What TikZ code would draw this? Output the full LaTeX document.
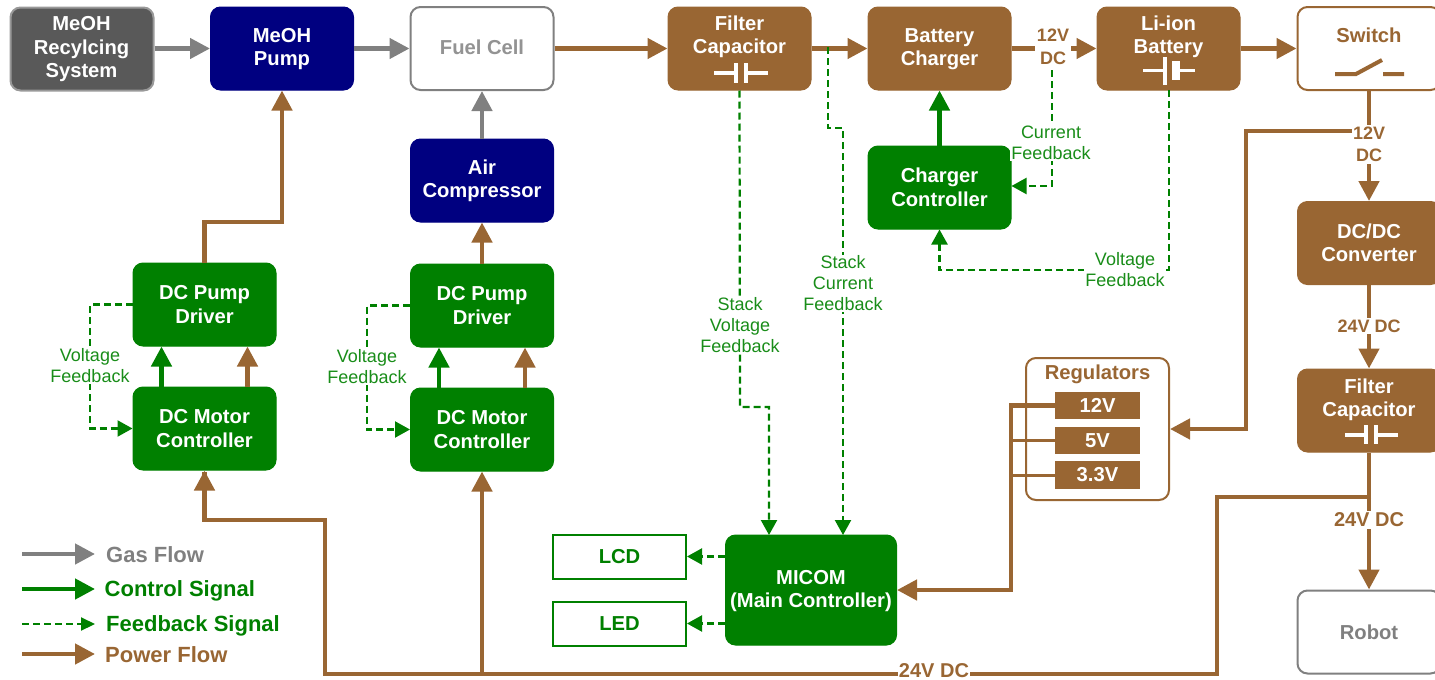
\documentclass[tikz,border=0pt]{standalone}
\usepackage{fontspec}
\setmainfont{Liberation Sans}
\usetikzlibrary{arrows.meta}
\definecolor{pw}{HTML}{996633}
\definecolor{gn}{HTML}{008000}
\definecolor{gy}{HTML}{808080}
\definecolor{nv}{HTML}{000080}
\definecolor{dk}{HTML}{595959}
\tikzset{
  bx/.style={rounded corners=10pt,minimum width=143pt,minimum height=83pt,inner sep=0pt,align=center,
    font=\fontsize{20.2}{23.5}\selectfont\bfseries,line width=1pt},
  brownbox/.style={bx,fill=pw,draw=pw,text=white},
  greenbox/.style={bx,fill=gn,draw=gn,text=white},
  navybox/.style={bx,fill=nv,draw=nv,text=white},
  whitebox/.style={bx,fill=white,draw=gy,text=gy,line width=2pt},
  switchbox/.style={bx,fill=white,draw=pw,text=pw,line width=2pt},
  boxtext/.style={inner sep=0pt,align=center,font=\fontsize{20.2}{23.5}\selectfont\bfseries},
  regbox/.style={fill=pw,draw=none,text=white,minimum width=85pt,minimum height=27.5pt,inner sep=0pt,
    font=\fontsize{20.2}{24}\selectfont\bfseries},
  dispbox/.style={fill=white,draw=gn,line width=2pt,text=gn,minimum width=133pt,minimum height=44pt,inner sep=0pt,
    font=\fontsize{20.2}{24}\selectfont\bfseries},
  power/.style={draw=pw,line width=4.5pt,-{Triangle[length=20pt,width=20pt]}},
  powerline/.style={draw=pw,line width=4.5pt},
  thinpower/.style={draw=pw,line width=3pt},
  control/.style={draw=gn,line width=4.5pt,-{Triangle[length=20pt,width=20pt]}},
  gas/.style={draw=gy,line width=4.5pt,-{Triangle[length=20pt,width=20pt]}},
  feed/.style={draw=gn,line width=2.2pt,dash pattern=on 7pt off 4pt,-{Triangle[length=15pt,width=16pt]}},
  fblabel/.style={fill=white,text=gn!90!white,inner sep=1pt,align=center,font=\fontsize{18}{21}\selectfont},
  pwlabel/.style={fill=white,text=pw,inner sep=1.5pt,align=center,font=\fontsize{18}{22.5}\selectfont\bfseries},
  pwlabelbig/.style={pwlabel,font=\fontsize{20}{24}\selectfont\bfseries},
  legendtext/.style={anchor=west,inner sep=0pt,font=\fontsize{22}{24}\selectfont\bfseries},
  sym/.style={draw=white,line width=3.5pt},
}
\begin{document}
\begin{tikzpicture}[x=1pt,y=-1pt]
\useasboundingbox (0,0) rectangle (1435,680);
\clip (0,0) rectangle (1435,680);
% boxes
\node[bx,fill=dk,draw=gy!80!white,text=white,line width=2pt] (recycle) at (82,49) {};
\node[navybox] (pump) at (282,48.5) {};
\node[whitebox] (fuel) at (482,48.5) {};
\node[brownbox] (filterA) at (739.5,48.5) {};
\node[brownbox] (charger) at (939.5,48.5) {};
\node[brownbox] (battery) at (1168.5,48.5) {};
\node[switchbox] (switch) at (1369,48.5) {};
\node[navybox] (air) at (482,180.5) {};
\node[greenbox] (ctrl) at (939.5,187.5) {Charger\\Controller};
\node[brownbox] (dcdc) at (1369,243) {DC/DC\\Converter};
\node[brownbox] (filterB) at (1369,410.5) {};
\node[whitebox] (robot) at (1369,632) {Robot};
\node[greenbox] (driverL) at (204.5,304.5) {DC Pump\\Driver};
\node[greenbox] (motorL) at (204.5,428.5) {DC Motor\\Controller};
\node[greenbox] (driverR) at (482,305.5) {DC Pump\\Driver};
\node[greenbox] (motorR) at (482,429.5) {DC Motor\\Controller};
\node[greenbox,minimum width=171pt,minimum height=110pt] (micom) at (811,590) {};
\node[dispbox] (lcd) at (619.5,556.5) {LCD};
\node[dispbox] (led) at (619.5,623.5) {LED};
\node[bx,fill=white,draw=pw,line width=2pt,minimum width=143pt,minimum height=142pt] (reg) at (1097.5,429) {};
% box texts positioned on their own
\node[boxtext,text=white] (recyclet) at (81.5,49.5) {MeOH\\Recylcing\\System};
\node[boxtext,text=pw] (regtitle) at (1097.5,374.5) {Regulators};
\node[boxtext,text=white] (pumpt) at (282,49) {MeOH\\Pump};
\node[boxtext,text=gy!85!white] (fuelt) at (482,47) {Fuel Cell};
\node[boxtext,text=white] (chargert) at (939.5,49) {Battery\\Charger};
\node[boxtext,text=white] (airt) at (482,181) {Air\\Compressor};
\node[boxtext,text=white] (micomt) at (811,591) {MICOM\\(Main Controller)};
\node[boxtext,text=white] (filterAt) at (739.5,37) {Filter\\Capacitor};
\node[boxtext,text=white] (batteryt) at (1168.5,37) {Li-ion\\Battery};
\node[boxtext,text=pw] (switcht) at (1369,35) {Switch};
\node[boxtext,text=white] (filterBt) at (1369,400) {Filter\\Capacitor};
% capacitor and switch symbols
\draw[sym] (714,73) -- (736,73) (736,63) -- (736,83) (746,63) -- (746,83) (746,73) -- (768,73);
\draw[sym] (1143,70.5) -- (1165,70.5) (1165,57) -- (1165,85) (1180,70.5) -- (1195,70.5);
\fill[white] (1172,61) rectangle (1180,80);
\draw[draw=pw,line width=4pt] (1335,74) -- (1356,74) -- (1382,60) (1383,74) -- (1404,74);
\draw[sym] (1345,435) -- (1366,435) (1366,425) -- (1366,444) (1376,425) -- (1376,444) (1376,435) -- (1398,435);
\node[regbox] (r12) at (1097.5,405.5) {12V};
\node[regbox] (r5) at (1097.5,440.5) {5V};
\node[regbox] (r33) at (1097.5,475) {3.3V};
% gas
\draw[gas] (recycle.east |- pump.east) -- (pump.west);
\draw[gas] (pump.east) -- (fuel.west);
\draw[gas] (air.north) -- (fuel.south);
% power
\draw[power] (fuel.east) -- (filterA.west);
\draw[power] (filterA.east) -- (charger.west);
\draw[power] (charger.east) -- (battery.west);
\draw[power] (battery.east) -- (switch.west);
\draw[power] (switch.south) -- (dcdc.north);
\draw[power] (dcdc.south) -- (filterB.north);
\draw[power] (filterB.south) -- (robot.north);
\draw[power] (1369,131) -- (1246,131) -- (1246,429) -- (reg.east);
\draw[powerline] (1371,497) -- (1217,497) -- (1217,674) -- (325,674) -- (325,520) -- (204.5,520) -- (204.5,472);
\draw[power] (325,520) -- (204.5,520) -- (motorL.south);
\draw[power] (482,674) -- (motorR.south);
\draw[power] (driverL.north) -- (204.5,222) -- (282,222) -- (pump.south);
\draw[power] (driverR.north) -- (air.south);
\draw[power] ([xshift=43pt]motorL.north) -- ([xshift=43pt]driverL.south);
\draw[power] ([xshift=43pt]motorR.north) -- ([xshift=43pt]driverR.south);
\draw[power] (r12.west) -- (1011,405.5) -- (1011,590) -- (micom.east);
\draw[thinpower] (1011,440.5) -- (r5.west);
\draw[thinpower] (1011,475) -- (r33.west);
% control
\draw[control] ([xshift=-43pt]motorL.north) -- ([xshift=-43pt]driverL.south);
\draw[control] ([xshift=-43pt]motorR.north) -- ([xshift=-43pt]driverR.south);
\draw[control] (ctrl.north) -- (charger.south);
% feedback
\draw[feed] (driverL.west) -- (90,304.5) -- (90,428.5) -- (motorL.west);
\draw[feed] (driverR.west) -- (367,305.5) -- (367,429.5) -- (motorR.west);
\draw[feed] (1052,70) -- (1052,186) -- (ctrl.east |- 0,186);
\draw[feed] (1169,90) -- (1169,270) -- (939.5,270) -- (ctrl.south);
\draw[feed] (filterA.south) -- (740,407) -- (769,407) -- (769,535);
\draw[feed] (828,47) -- (828,128) -- (843,128) -- (843,535);
\draw[feed] (micom.west |- lcd.east) -- (lcd.east);
\draw[feed] (micom.west |- led.east) -- (led.east);
% labels
\node[pwlabel] (l12a) at (1053,47) {12V\\DC};
\node[pwlabel] (l12b) at (1369,144.5) {12V\\DC};
\node[pwlabel] (l24a) at (1369,326) {24V DC};
\node[pwlabelbig] (l24b) at (1369,520) {24V DC};
\node[pwlabelbig,inner sep=0.5pt] (l24c) at (934,670.5) {24V DC};
\node[fblabel] (fbc) at (1051,143) {Current\\Feedback};
\node[fblabel] (fbv) at (1125,270) {Voltage\\Feedback};
\node[fblabel] (fbsv) at (740,325) {Stack\\Voltage\\Feedback};
\node[fblabel] (fbsc) at (843,283.5) {Stack\\Current\\Feedback};
\node[fblabel] (fbl) at (90,366) {Voltage\\Feedback};
\node[fblabel] (fbr) at (367,367) {Voltage\\Feedback};
% legend
\coordinate (g1) at (22,554); \coordinate (g2) at (95,554);
\coordinate (c1) at (22,589); \coordinate (c2) at (95,589);
\coordinate (f1) at (22,624); \coordinate (f2) at (95,624);
\coordinate (p1) at (22,654); \coordinate (p2) at (95,654);
\draw[gas] (g1) -- (g2);
\draw[control] (c1) -- (c2);
\draw[feed,-{Triangle[length=14pt,width=13pt]}] (f1) -- (f2);
\draw[power] (p1) -- (p2);
\node[legendtext,text=gy] (tg) at (106,555) {Gas Flow};
\node[legendtext,text=gn] (tc) at (104.5,590.5) {Control Signal};
\node[legendtext,text=gn] (tf) at (106,625.5) {Feedback Signal};
\node[legendtext,text=pw] (tp) at (105,655) {Power Flow};
\end{tikzpicture}
\end{document}
